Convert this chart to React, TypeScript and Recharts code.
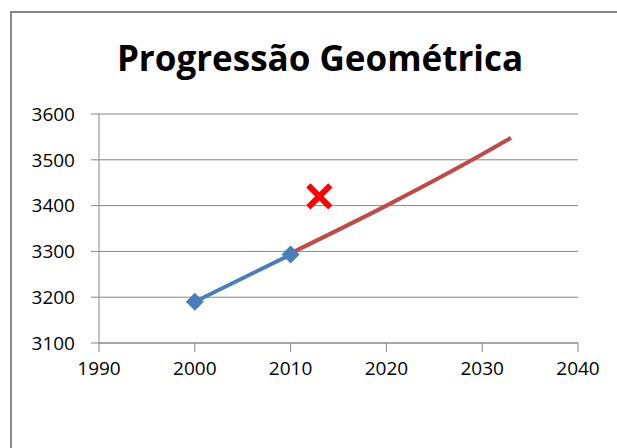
import React from 'react';
import { ComposedChart, Line, Scatter, XAxis, YAxis, CartesianGrid } from 'recharts';

// values
const xTicks = [1990, 2000, 2010, 2020, 2030, 2040];
const yTicks = [3100, 3200, 3300, 3400, 3500, 3600];

const observedYears = [2000, 2010];
const observedValues = [3190, 3293];

const projectedYears = [2010, 2020, 2030, 2033];
const projectedValues = [3296, 3400, 3512, 3548];

const markYears = [2013];
const markValues = [3420];

const observed = observedYears.map((year, i) => ({ year, value: observedValues[i] }));
const projected = projectedYears.map((year, i) => ({ year, value: projectedValues[i] }));
const marks = markYears.map((year, i) => ({ year, value: markValues[i] }));

const GRAY = '#878787';
const BLUE = '#4a7ebb';
const RED = '#be4b48';

const Diamond = (props: any) => {
  const { cx, cy, index } = props;
  if (cx == null || cy == null) return null;
  const r = 9;
  return (
    <polygon
      key={`d-${index}`}
      points={`${cx},${cy - r} ${cx + r},${cy} ${cx},${cy + r} ${cx - r},${cy}`}
      fill={BLUE}
    />
  );
};

const Cross = (props: any) => {
  const { cx, cy } = props;
  const r = 11;
  return (
    <g>
      <line x1={cx - r} y1={cy - r} x2={cx + r} y2={cy + r} stroke="#ff0000" strokeWidth={6} />
      <line x1={cx - r} y1={cy + r} x2={cx + r} y2={cy - r} stroke="#ff0000" strokeWidth={6} />
    </g>
  );
};

const tickStyle = { fontFamily: 'Open Sans', fontSize: 19, fill: '#000' };

export default function App() {
  return (
    <div style={{ position: 'absolute', left: 0, top: 0, width: 617, height: 448, overflow: 'hidden', background: '#fff' }}>
      <div
        style={{
          position: 'absolute',
          left: 10,
          top: 11,
          width: 700,
          height: 500,
          borderLeft: `2px solid ${GRAY}`,
          borderTop: `2px solid ${GRAY}`,
        }}
      />
      <svg style={{ position: 'absolute', left: 0, top: 0 }} width={617} height={100}>
        <text
          x={320}
          y={71}
          textAnchor="middle"
          fontFamily="Open Sans"
          fontWeight="bold"
          fontSize={35}
          fill="#000"
        >
          Progressão Geométrica
        </text>
      </svg>
      <div style={{ position: 'absolute', left: 0, top: 0 }}>
        <ComposedChart width={617} height={448} margin={{ top: 114, right: 39, left: 39, bottom: 65 }}>
          <CartesianGrid vertical={false} stroke={GRAY} />
          <XAxis
            type="number"
            dataKey="year"
            domain={[1990, 2040]}
            ticks={xTicks}
            allowDataOverflow
            height={40}
            stroke={GRAY}
            tickSize={9}
            tickMargin={10}
            tick={tickStyle}
          />
          <YAxis
            type="number"
            dataKey="value"
            domain={[3100, 3600]}
            ticks={yTicks}
            allowDataOverflow
            width={60}
            stroke={GRAY}
            tickSize={8}
            tickMargin={16}
            tick={tickStyle}
          />
          <Line
            data={projected}
            dataKey="value"
            type="monotone"
            stroke={RED}
            strokeWidth={4}
            dot={false}
            isAnimationActive={false}
          />
          <Line
            data={observed}
            dataKey="value"
            type="linear"
            stroke={BLUE}
            strokeWidth={4}
            dot={Diamond}
            isAnimationActive={false}
          />
          <Scatter data={marks} dataKey="value" shape={Cross} isAnimationActive={false} />
        </ComposedChart>
      </div>
    </div>
  );
}
